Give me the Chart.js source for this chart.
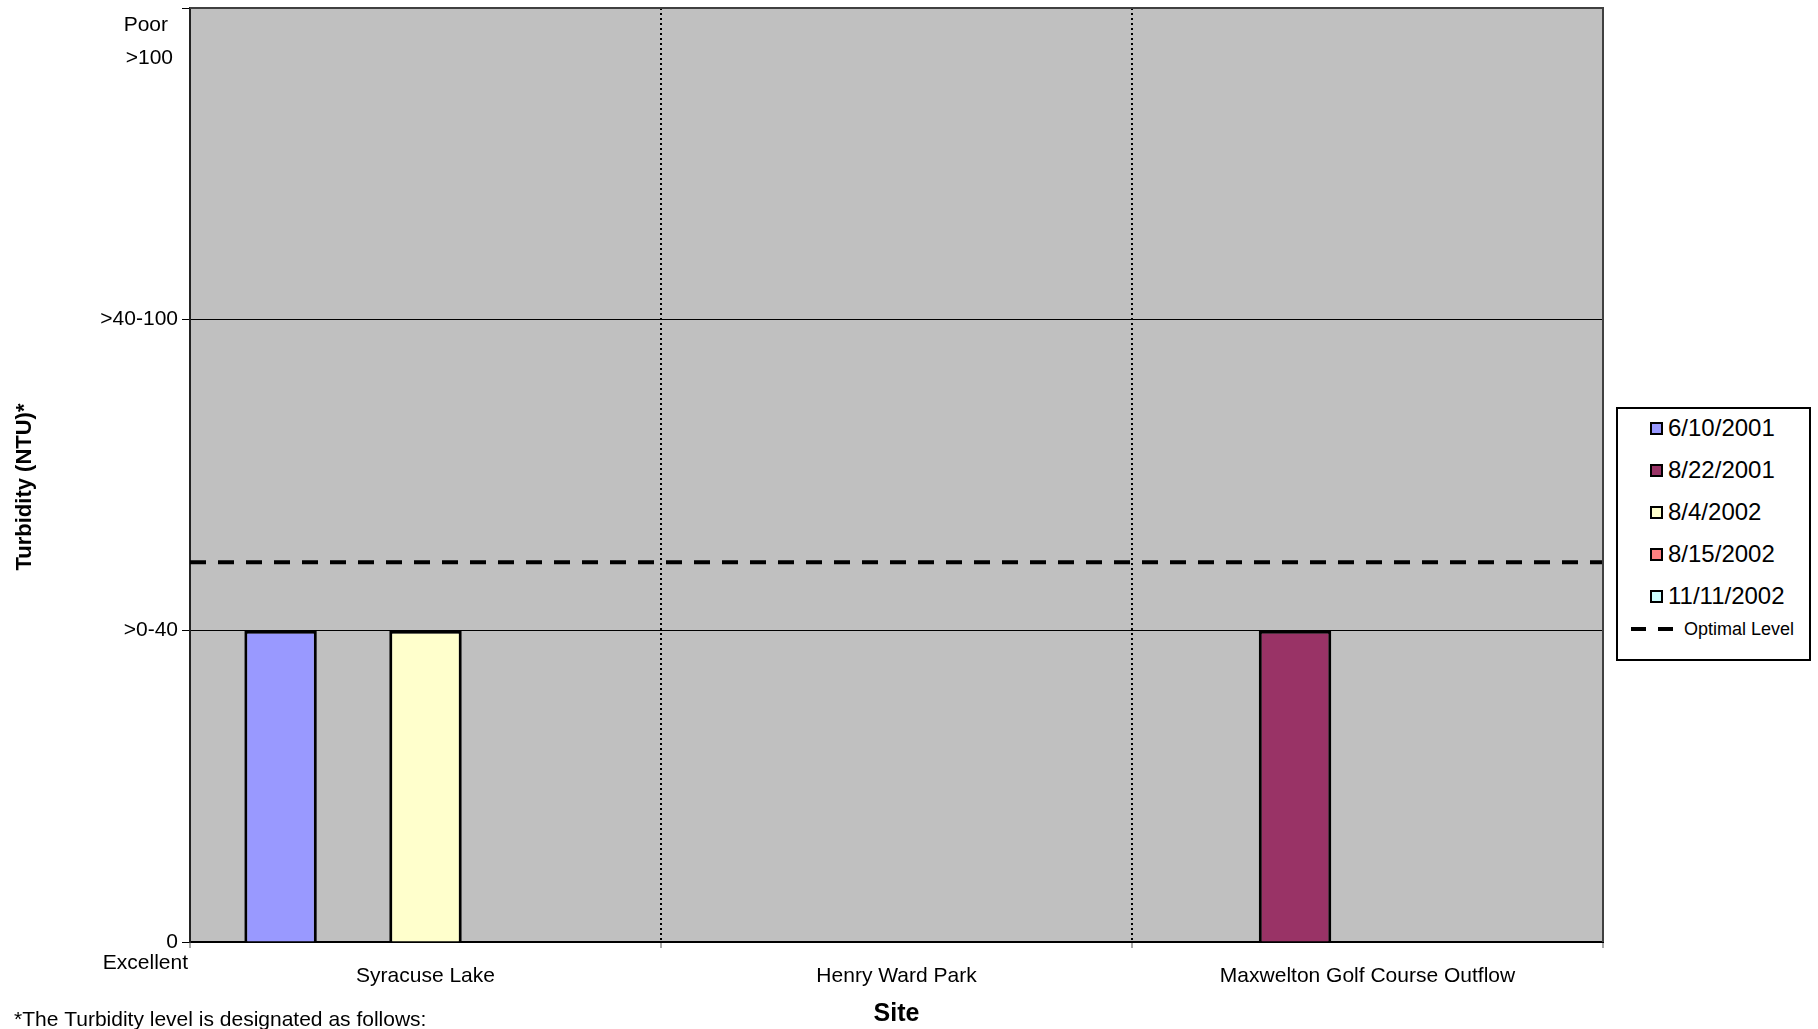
<!DOCTYPE html>
<html>
<head>
<meta charset="utf-8">
<title>Turbidity by Site</title>
<script src="https://cdn.jsdelivr.net/npm/chart.js@4.4.1/dist/chart.umd.min.js"></script>
<style>
  body { margin: 0; background: #fff; }
  #wrap { position: relative; width: 1818px; height: 1029px; overflow: hidden; font-family: "Liberation Sans", Arial, sans-serif; }
  #legend { position: absolute; left: 1616px; top: 407px; width: 195px; height: 254px; box-sizing: border-box; border: 2px solid #000; background: #fff; }
  #legend .row { height: 42px; display: flex; align-items: center; font-size: 24px; color: #000; }
  #legend .row:first-child { margin-top: -2px; }
  #legend .sw { width: 13px; height: 13px; box-sizing: border-box; border: 2px solid #000; margin-left: 32px; margin-right: 5px; }
  #legend .line { height: 24px; font-size: 18px; }
  #legend .dash { width: 15px; height: 4px; background: #000; }
</style>
</head>
<body>
<div id="wrap">
  <canvas id="chart" width="1818" height="1029"></canvas>
  <div id="legend"></div>
</div>
<script>
// sites on the x axis
let sites = ['Syracuse Lake', 'Henry Ward Park', 'Maxwelton Golf Course Outflow'];

// sampling dates (one bar series each) and their colours
let fechas = ['6/10/2001', '8/22/2001', '8/4/2002', '8/15/2002', '11/11/2002'];
let colores = ['#9999FF', '#993366', '#FFFFCC', '#FF8080', '#CCFFFF'];

// turbidity class per site (0 = 0, 1 = >0-40, 2 = >40-100, 3 = >100)
let s6_10_2001 = [1, null, null];
let s8_22_2001 = [null, null, 1];
let s8_4_2002 = [1, null, null];
let s8_15_2002 = [null, null, null];
let s11_11_2002 = [null, null, null];
let series = [s6_10_2001, s8_22_2001, s8_4_2002, s8_15_2002, s11_11_2002];

// optimal level (same scale)
let optimo = 1.22;

// y tick labels
let yLabels = ['0', '>0-40', '>40-100', ''];

const FONT = "'Liberation Sans', Arial, sans-serif";

let datasets = fechas.map((f, i) => ({
    label: f,
    data: series[i],
    backgroundColor: colores[i],
    borderColor: '#000',
    borderWidth: 3,
    borderSkipped: 'bottom'
}));

const extras = {
    id: 'extras',
    beforeDraw(chart) {
        let a = chart.chartArea;
        let ctx = chart.ctx;
        ctx.save();
        ctx.fillStyle = '#C0C0C0';
        ctx.fillRect(a.left, a.top, a.right - a.left, a.bottom - a.top);
        ctx.restore();
    },
    afterDatasetsDraw(chart) {
        // optimal level line across the whole plot
        let a = chart.chartArea;
        let ctx = chart.ctx;
        let py = chart.scales.y.getPixelForValue(optimo);
        ctx.save();
        ctx.strokeStyle = '#000';
        ctx.lineWidth = 4;
        ctx.setLineDash([16, 12]);
        ctx.beginPath();
        ctx.moveTo(a.left, py);
        ctx.lineTo(a.right, py);
        ctx.stroke();
        ctx.restore();
    },
    afterDraw(chart) {
        let a = chart.chartArea;
        let ctx = chart.ctx;
        let y = chart.scales.y;
        ctx.save();
        // top and right frame
        ctx.strokeStyle = '#404040';
        ctx.lineWidth = 2;
        ctx.beginPath();
        ctx.moveTo(a.left, a.top);
        ctx.lineTo(a.right, a.top);
        ctx.lineTo(a.right, a.bottom);
        ctx.stroke();

        ctx.fillStyle = '#000';
        ctx.font = '21px ' + FONT;
        ctx.textAlign = 'right';
        ctx.textBaseline = 'middle';
        ctx.fillText('Poor', 168, y.getPixelForValue(2.945));
        ctx.fillText('>100', 173, y.getPixelForValue(2.84));
        ctx.fillText('Excellent', 188, y.getPixelForValue(-0.068));

        ctx.textAlign = 'left';
        ctx.textBaseline = 'alphabetic';
        ctx.fillText('*The Turbidity level is designated as follows:', 14, 1026);

        // y axis title
        ctx.translate(25, 487);
        ctx.rotate(-Math.PI / 2);
        ctx.textAlign = 'center';
        ctx.textBaseline = 'middle';
        ctx.font = 'bold 22px ' + FONT;
        ctx.fillText('Turbidity (NTU)*', 0, 0);
        ctx.restore();
    }
};

let chart = new Chart(document.getElementById('chart'), {
    type: 'bar',
    data: { labels: sites, datasets: datasets },
    options: {
        responsive: false,
        animation: false,
        devicePixelRatio: 1,
        layout: { autoPadding: false, padding: { top: 8, right: 215, left: 0, bottom: 0 } },
        plugins: { legend: { display: false }, tooltip: { enabled: false } },
        datasets: { bar: { categoryPercentage: 5 / 6.5, barPercentage: 1 } },
        scales: {
            x: {
                type: 'category',
                offset: true,
                grid: {
                    offset: true,
                    color: (c) => (c.index === 0 || c.index === sites.length) ? 'rgba(0,0,0,0)' : '#000',
                    tickColor: '#555',
                    lineWidth: 2,
                    tickWidth: 1,
                    tickLength: 6
                },
                border: { display: true, color: '#000', width: 2, dash: [2, 3] },
                ticks: { color: '#000', font: { family: FONT, size: 21 }, padding: 16, maxRotation: 0 },
                title: { display: true, text: 'Site', color: '#000', font: { family: FONT, size: 25, weight: 'bold' }, padding: { top: 0, bottom: 0 } },
                afterFit: (s) => { s.height = 87; s.paddingLeft = 0; s.paddingRight = 0; }
            },
            y: {
                min: 0,
                max: 3,
                ticks: {
                    stepSize: 1,
                    color: '#000',
                    font: { family: FONT, size: 21 },
                    padding: 4,
                    callback: (v) => yLabels[v]
                },
                grid: { color: '#000', lineWidth: 1, tickLength: 8 },
                border: { display: true, color: '#222', width: 2 },
                afterFit: (s) => { s.width = 190; s.paddingTop = 0; s.paddingBottom = 0; }
            }
        }
    },
    plugins: [extras]
});

// legend
let leg = document.getElementById('legend');
let html = '';
fechas.forEach((f, i) => {
    html += `<div class="row"><span class="sw" style="background:${colores[i]}"></span>${f}</div>`;
});
html += `<div class="row line"><span class="dash" style="margin-left:13px"></span><span class="dash" style="margin-left:12px"></span><span style="margin-left:11px">Optimal Level</span></div>`;
leg.innerHTML = html;
</script>
</body>
</html>
